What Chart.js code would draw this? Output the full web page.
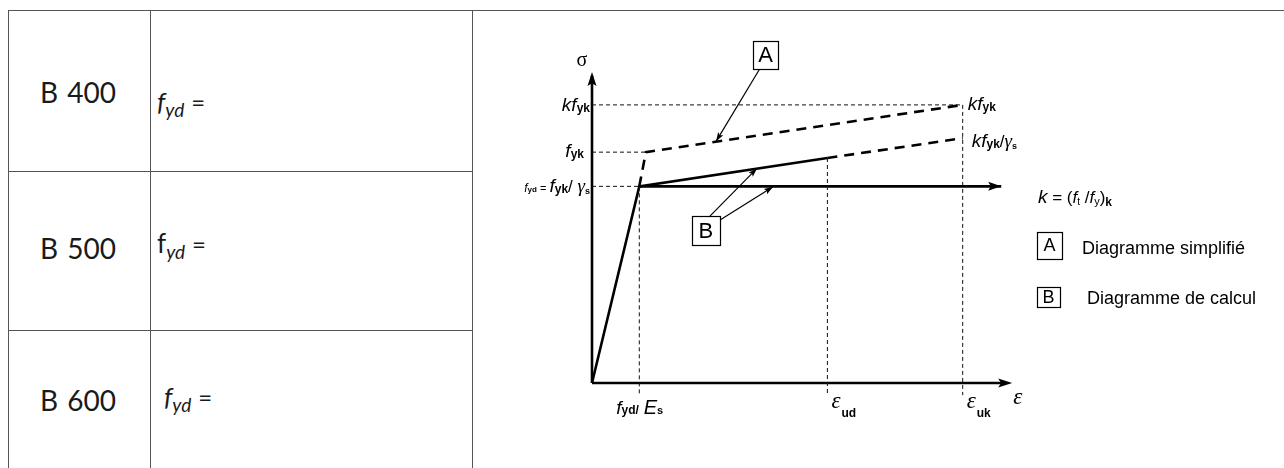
<!DOCTYPE html>
<html>
<head>
<meta charset="utf-8">
<script src="https://cdn.jsdelivr.net/npm/chart.js@4/dist/chart.umd.min.js"></script>
<style>
  html, body { margin: 0; padding: 0; background: #fff; }
  #wrap { position: relative; width: 1284px; height: 468px; overflow: hidden; background: #fff; }
  .ln { position: absolute; background: #555; }
  .cell { position: absolute; white-space: nowrap; line-height: 1; color: #1a1a1a; font-family: Lato, "Open Sans", sans-serif; }
  .grade { font-size: 28px; word-spacing: 2px; }
  .fyd { font-size: 26px; }
  .fyd sub { font-size: 19px; font-style: italic; vertical-align: -6px; line-height: 1; }
  .fyd .eq { font-size: 24px; margin-left: 7px; }
  #chart { position: absolute; left: 0; top: 0; }
</style>
</head>
<body>
<div id="wrap">
  <!-- table frame -->
  <div class="ln" style="left:8px;top:10px;width:1276px;height:1px;"></div>
  <div class="ln" style="left:8px;top:10px;width:1px;height:458px;"></div>
  <div class="ln" style="left:150px;top:10px;width:1px;height:458px;"></div>
  <div class="ln" style="left:472px;top:10px;width:1px;height:458px;"></div>
  <div class="ln" style="left:8px;top:171px;width:464px;height:1px;"></div>
  <div class="ln" style="left:8px;top:330px;width:464px;height:1px;"></div>
  <div id="cells"></div>
  <canvas id="chart" width="1284" height="468"></canvas>
</div>
<script>
// ---------- table content ----------
const gradeLabels = ['B 400', 'B 500', 'B 600'];
const fydLabel = 'f';
const fydSub = 'yd';

// ---------- diagram data (strain in ‰-like units, stress in MPa-like units) ----------
const strainTickLabels = ['fyd/Es', 'εud', 'εuk'];
const strainTickValues = [2.15, 10.7, 16.85];      // f_yd/E_s, eps_ud, eps_uk
const stressTickLabels = ['kfyk', 'fyk', 'fyd = fyk/γs'];
const stressTickValues = [618, 513, 437];           // k f_yk, f_yk, f_yd
const epsYk = 2.45;                                  // strain at f_yk (curve A)
const curveA_x = [2.15, 2.45, 16.85];                // Diagramme simplifié (A)
const curveA_y = [437, 513, 618];
const curveB_x = [0, 2.15, 10.7];                    // Diagramme de calcul (B), inclined branch
const curveB_y = [0, 437, 500];
const curveBext_x = [10.7, 16.85];                   // extension up to k f_yk / gamma_s
const curveBext_y = [500, 544];
const curveBflat_x = [2.15, 18.6];                   // horizontal branch
const curveBflat_y = [437, 437];
const axisX_end = 19.1;
const axisY_end = 691;
const calloutA = { from: [7.6, 696], to: [5.64, 537] };
const calloutB = [ { from: [5.36, 371], to: [7.5, 477] }, { from: [5.82, 362], to: [8.23, 436] } ];
const boxA = [7.89, 729];
const boxB = [5.18, 339];
const legendItems = [['A', 'Diagramme simplifié'], ['B', 'Diagramme de calcul']];

// ---------- table text ----------
(function () {
  const cells = document.getElementById('cells');
  const gradeTops = [78, 234, 386];
  const fydTops = [88, 230, 383];
  const fydLefts = [157, 157, 164];
  gradeLabels.forEach((g, i) => {
    const d = document.createElement('div');
    d.className = 'cell grade';
    d.style.left = '40px'; d.style.top = gradeTops[i] + 'px';
    d.textContent = g;
    cells.appendChild(d);
    const e = document.createElement('div');
    e.className = 'cell fyd';
    e.style.left = fydLefts[i] + 'px'; e.style.top = fydTops[i] + 'px';
    const fStyle = i === 1 ? 'normal' : 'italic';
    e.innerHTML = '<span style="font-style:' + fStyle + '">' + fydLabel + '</span><sub>' + fydSub + '</sub><span class="eq">=</span>';
    cells.appendChild(e);
  });
})();

// ---------- helpers ----------
const SANS = '"Liberation Sans", Arial, sans-serif';
const SERIF = '"Liberation Serif", "Times New Roman", serif';
function pts(xs, ys) { return xs.map((x, i) => ({ x: x, y: ys[i] })); }
function rich(ctx, x, y, segs, align) {
  let w = 0;
  segs.forEach(s => { ctx.font = s.f; s.w = ctx.measureText(s.t).width + (s.sp || 0); w += s.w; });
  let cx = align === 'right' ? x - w : (align === 'center' ? x - w / 2 : x);
  segs.forEach(s => { ctx.font = s.f; ctx.fillText(s.t, cx, y + (s.dy || 0)); cx += s.w; });
}
function arrowHead(ctx, x0, y0, x1, y1, len, half) {
  const a = Math.atan2(y1 - y0, x1 - x0);
  ctx.save();
  ctx.translate(x1, y1); ctx.rotate(a);
  ctx.beginPath();
  ctx.moveTo(0, 0); ctx.lineTo(-len, -half); ctx.lineTo(-len * 0.8, 0); ctx.lineTo(-len, half);
  ctx.closePath(); ctx.fill();
  ctx.restore();
}

const thinDash = { borderColor: '#111', borderWidth: 1, borderDash: [4, 3], pointRadius: 0, showLine: true, clip: false, fill: false };
const thick = { borderColor: '#000', borderWidth: 2.6, pointRadius: 0, showLine: true, clip: false, fill: false };
const thickDash = Object.assign({}, thick, { borderDash: [10, 7] });
const thin = { borderColor: '#000', borderWidth: 1.2, pointRadius: 0, showLine: true, clip: false, fill: false };

const datasets = [
  // reference dashed lines (horizontal)
  Object.assign({ data: pts([0, strainTickValues[2]], [stressTickValues[0], stressTickValues[0]]) }, thinDash),
  Object.assign({ data: pts([0, epsYk], [stressTickValues[1], stressTickValues[1]]) }, thinDash),
  Object.assign({ data: pts([0, strainTickValues[0]], [stressTickValues[2], stressTickValues[2]]) }, thinDash),
  // reference dashed lines (vertical)
  Object.assign({ data: pts([strainTickValues[0], strainTickValues[0]], [stressTickValues[2], -27]) }, thinDash),
  Object.assign({ data: pts([strainTickValues[1], strainTickValues[1]], [curveB_y[2], -27]) }, thinDash),
  Object.assign({ data: pts([strainTickValues[2], strainTickValues[2]], [stressTickValues[0], -27]) }, thinDash),
  // axes
  Object.assign({ data: pts([0, 0], [0, axisY_end - 8]) }, thick),
  Object.assign({ data: pts([0, axisX_end - 0.4], [0, 0]) }, thick),
  // curve A
  Object.assign({ data: pts(curveA_x, curveA_y) }, thickDash),
  // curve B
  Object.assign({ data: pts(curveB_x, curveB_y) }, thick),
  Object.assign({ data: pts(curveBext_x, curveBext_y) }, thickDash),
  Object.assign({ data: pts(curveBflat_x, curveBflat_y) }, thick),
  // callouts
  Object.assign({ data: pts([calloutA.from[0], calloutA.to[0]], [calloutA.from[1], calloutA.to[1]]) }, thin),
  Object.assign({ data: pts([calloutB[0].from[0], calloutB[0].to[0]], [calloutB[0].from[1], calloutB[0].to[1]]) }, thin),
  Object.assign({ data: pts([calloutB[1].from[0], calloutB[1].to[0]], [calloutB[1].from[1], calloutB[1].to[1]]) }, thin)
];

const annot = {
  id: 'annot',
  afterDatasetsDraw(chart) {
    const ctx = chart.ctx, xs = chart.scales.x, ys = chart.scales.y;
    const X = v => xs.getPixelForValue(v), Y = v => ys.getPixelForValue(v);
    ctx.save();
    ctx.fillStyle = '#000'; ctx.strokeStyle = '#000';
    ctx.textBaseline = 'alphabetic';

    // arrow heads
    arrowHead(ctx, X(0), Y(0), X(0), Y(axisY_end), 14, 4.5);
    arrowHead(ctx, X(0), Y(0), X(axisX_end), Y(0), 14, 4.5);
    arrowHead(ctx, X(curveBflat_x[0]), Y(curveBflat_y[0]), X(curveBflat_x[1]), Y(curveBflat_y[1]), 13, 4.5);
    arrowHead(ctx, X(calloutA.from[0]), Y(calloutA.from[1]), X(calloutA.to[0]), Y(calloutA.to[1]), 9, 3);
    calloutB.forEach(c => arrowHead(ctx, X(c.from[0]), Y(c.from[1]), X(c.to[0]), Y(c.to[1]), 9, 3));

    // sigma and epsilon axis labels
    ctx.font = '20px ' + SERIF;
    ctx.textAlign = 'center';
    ctx.fillText('σ', X(0) - 10, Y(axisY_end) - 6);
    ctx.textAlign = 'left';
    ctx.font = 'italic 23px ' + SERIF;
    ctx.fillText('ε', X(axisX_end) + 1, Y(0) + 21);

    const I16 = 'italic 19px ' + SANS, B10 = 'bold 12px ' + SANS, R16 = '17px ' + SANS;
    // left stress labels
    const ax = X(0) - 2;
    rich(ctx, ax, Y(stressTickValues[0]) + 6, [{ t: 'k', f: I16 }, { t: 'f', f: I16 }, { t: 'yk', f: B10, dy: 1 }], 'right');
    rich(ctx, ax - 6, Y(stressTickValues[1]) + 5, [{ t: 'f', f: I16 }, { t: 'yk', f: B10, dy: 1 }], 'right');
    rich(ctx, ax, Y(stressTickValues[2]) + 6, [
      { t: 'f', f: 'italic 12px ' + SANS }, { t: 'yd', f: 'bold 8px ' + SANS }, { t: ' = ', f: '11px ' + SANS },
      { t: 'f', f: I16 }, { t: 'yk', f: B10, dy: 1 }, { t: '/ ', f: R16 }, { t: 'γ', f: 'italic 19px ' + SERIF }, { t: 's', f: 'bold 9px ' + SANS, dy: 2 }
    ], 'right');

    // right labels
    const rx = X(strainTickValues[2]);
    rich(ctx, rx + 5, Y(stressTickValues[0]) + 5, [{ t: 'k', f: I16 }, { t: 'f', f: I16 }, { t: 'yk', f: B10, dy: 1 }], 'left');
    rich(ctx, rx + 9, Y(curveBext_y[1]) + 9, [
      { t: 'k', f: I16 }, { t: 'f', f: I16 }, { t: 'yk', f: B10, dy: 1 }, { t: '/', f: R16 }, { t: 'γ', f: 'italic 19px ' + SERIF }, { t: 's', f: 'bold 9px ' + SANS, dy: 2 }
    ], 'left');

    // k definition
    rich(ctx, 1038, Y(curveBflat_y[1]) + 17, [
      { t: 'k', f: 'italic 19px ' + SANS }, { t: ' = (', f: R16 }, { t: 'f', f: 'italic 17px ' + SANS }, { t: 't', f: '10px ' + SANS, dy: 2 },
      { t: ' /', f: R16 }, { t: 'f', f: 'italic 17px ' + SANS }, { t: 'y', f: '11px ' + SANS, dy: 2 }, { t: ')', f: R16 }, { t: 'k', f: B10, dy: 3 }
    ], 'left');

    // bottom strain labels
    const by = Y(0) + 31;
    rich(ctx, X(strainTickValues[0]) - 23, by, [
      { t: 'f', f: I16 }, { t: 'yd/', f: B10 }, { t: ' ', f: R16 }, { t: 'E', f: 'italic 20px ' + SANS }, { t: 's', f: 'bold 11px ' + SANS }
    ], 'left');
    [1, 2].forEach(i => {
      const lx = X(strainTickValues[i]) + 4;
      ctx.font = 'italic 23px ' + SERIF; ctx.textAlign = 'left';
      ctx.fillText('ε', lx, by - 6);
      ctx.font = 'bold 12px ' + SANS;
      ctx.fillText(i === 1 ? 'ud' : 'uk', lx + 10, by + 3);
    });

    // callout boxes
    function box(cx, cy, w, h, letter, size) {
      ctx.lineWidth = 1.2;
      ctx.strokeRect(Math.round(cx - w / 2) + 0.5, Math.round(cy - h / 2) + 0.5, w, h);
      ctx.font = size + 'px ' + SANS; ctx.textAlign = 'center'; ctx.textBaseline = 'middle';
      ctx.fillText(letter, cx, cy + 1);
      ctx.textBaseline = 'alphabetic'; ctx.textAlign = 'left';
    }
    box(X(boxA[0]), Y(boxA[1]), 25, 28, 'A', 22);
    box(X(boxB[0]), Y(boxB[1]), 28, 29, 'B', 22);

    // legend
    box(1049.5, 245.5, 25, 27, legendItems[0][0], 18);
    box(1048.5, 297, 23, 20, legendItems[1][0], 18);
    ctx.font = '18px ' + SANS; ctx.textAlign = 'left';
    ctx.fillText(legendItems[0][1], 1082, 254);
    ctx.fillText(legendItems[1][1], 1087, 304);
    ctx.restore();
  }
};

new Chart(document.getElementById('chart'), {
  type: 'scatter',
  data: { datasets: datasets },
  options: {
    responsive: false,
    devicePixelRatio: 1,
    animation: false,
    events: [],
    layout: { padding: { left: 570, right: 252, top: 41, bottom: 40 } },
    plugins: { legend: { display: false }, tooltip: { enabled: false }, title: { display: false } },
    scales: {
      x: { type: 'linear', min: -1, max: 20, display: false },
      y: { type: 'linear', min: -100, max: 760, display: false }
    }
  },
  plugins: [annot]
});
</script>
</body>
</html>
